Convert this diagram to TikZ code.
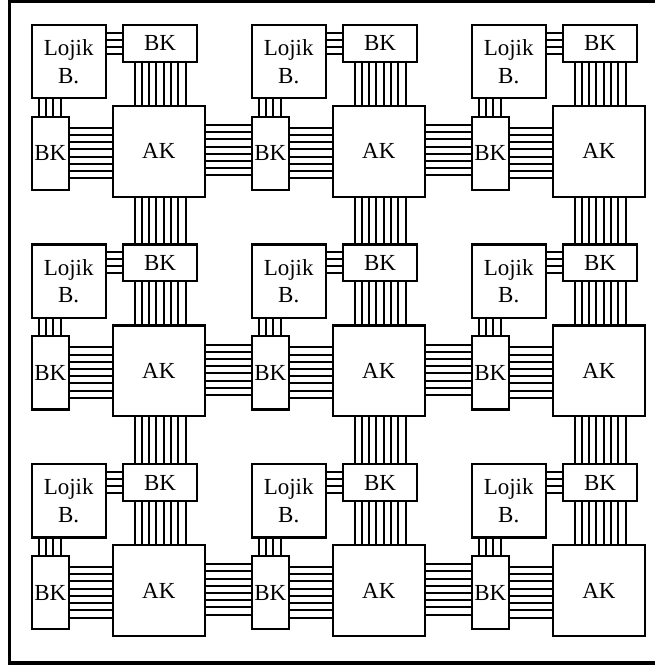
\documentclass[tikz,border=0pt]{standalone}
\usepackage{fontspec}
\setmainfont{Liberation Serif}
\usetikzlibrary{calc}
\begin{document}
\begin{tikzpicture}[x=1pt,y=-1pt,
  box/.style={draw, line width=2.3pt, fill=white, inner sep=0pt, outer sep=0pt,
    font=\fontsize{23}{27.5}\selectfont, align=center},
  wire/.style={line width=2pt},
  frame/.style={line width=3.2pt}]
\useasboundingbox (0,0) rectangle (654,668);
\draw[frame] (9.5,1.3) rectangle (658,663);
% tiles
\foreach \i in {0,1,2}{
  \foreach \j in {0,1,2}{
    \node[box, minimum width=74pt, minimum height=73.3pt] (L\i\j) at ({220*\i+68.7},{219.6*\j+61.65}) {Lojik\\B.};
    \node[box, minimum width=73.4pt, minimum height=36.7pt] (T\i\j) at ({220*\i+160},{219.6*\j+43.35}) {BK};
    \node[box, minimum width=37.3pt, minimum height=73.3pt] (B\i\j) at ({220*\i+50.35},{219.6*\j+153.35}) {BK};
    \node[box, minimum width=92.3pt, minimum height=90.7pt] (A\i\j) at ({220*\i+158.85},{219.6*\j+151.35}) {AK};
  }
}
% connectors within tiles
\foreach \i in {0,1,2}{
  \foreach \j in {0,1,2}{
    \foreach \k in {0,1,2,3}{
      \coordinate (p) at ($(L\i\j.north east)+(0,{7.7+7*\k})$);
      \draw[wire] (p) -- (p -| T\i\j.west);
      \coordinate (q) at ($(L\i\j.south west)+({7.3+7.2*\k},0)$);
      \draw[wire] (q) -- (q |- B\i\j.north);
    }
    \foreach \k in {0,...,7}{
      \coordinate (p) at ($(A\i\j.north west)+({21.8+7.3*\k},0)$);
      \draw[wire] (p |- T\i\j.south) -- (p);
      \coordinate (q) at ($(A\i\j.north west)+(0,{21.7+7.23*\k})$);
      \draw[wire] (q -| B\i\j.east) -- (q);
    }
  }
}
% connectors between tiles (horizontal)
\foreach \i/\n in {0/1,1/2}{
  \foreach \j in {0,1,2}{
    \foreach \k in {0,...,7}{
      \coordinate (p) at ($(A\i\j.north east)+(0,{19+7.2*\k})$);
      \draw[wire] (p) -- (p -| B\n\j.west);
    }
  }
}
% connectors between tiles (vertical)
\foreach \i in {0,1,2}{
  \foreach \j/\n in {0/1,1/2}{
    \foreach \k in {0,...,7}{
      \coordinate (p) at ($(A\i\j.south west)+({21.8+7.3*\k},0)$);
      \draw[wire] (p) -- (p |- T\i\n.north);
    }
  }
}
\end{tikzpicture}
\end{document}
